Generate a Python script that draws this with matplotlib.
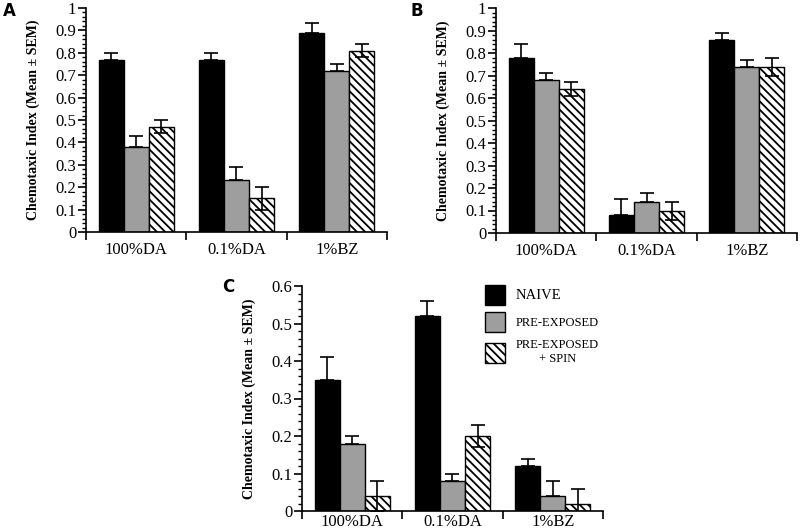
import matplotlib
matplotlib.use("Agg")
import matplotlib.pyplot as plt
import numpy as np
from matplotlib.patches import Patch
from matplotlib.ticker import MultipleLocator

plt.rcParams['hatch.linewidth'] = 1.3

categories = ["100%DA", "0.1%DA", "1%BZ"]
series_names = ["NAIVE", "PRE-EXPOSED", "PRE-EXPOSED\n+ SPIN"]

A_naive = [0.77, 0.77, 0.89]
A_naive_err = [0.03, 0.03, 0.045]
A_pre = [0.38, 0.23, 0.72]
A_pre_err = [0.05, 0.06, 0.03]
A_spin = [0.47, 0.15, 0.81]
A_spin_err = [0.03, 0.05, 0.03]

B_naive = [0.78, 0.08, 0.86]
B_naive_err = [0.06, 0.07, 0.03]
B_pre = [0.68, 0.14, 0.74]
B_pre_err = [0.03, 0.04, 0.03]
B_spin = [0.64, 0.10, 0.74]
B_spin_err = [0.03, 0.04, 0.04]

C_naive = [0.35, 0.52, 0.12]
C_naive_err = [0.06, 0.04, 0.02]
C_pre = [0.18, 0.08, 0.04]
C_pre_err = [0.02, 0.02, 0.04]
C_spin = [0.04, 0.20, 0.02]
C_spin_err = [0.04, 0.03, 0.04]

W, H = 800, 532
fig = plt.figure(figsize=(W / 100, H / 100), dpi=100)

serif = "Liberation Serif"
GRAY = "#9e9e9e"


def px_axes(left, right, top, bottom):
    return fig.add_axes([left / W, 1 - bottom / H, (right - left) / W, (bottom - top) / H])


def panel(ax, naive, naive_err, pre, pre_err, spin, spin_err, ymax, ystep, yminor, fmt, xpad):
    x = np.arange(len(categories)) + 0.5
    w = 0.25
    ekw = dict(ecolor="black", elinewidth=1.2, capsize=5, capthick=1.2, zorder=1)
    ax.bar(x - w, naive, w, color="black", edgecolor="black", linewidth=1, zorder=2)
    ax.errorbar(x - w, naive, yerr=[np.zeros(3), naive_err], fmt="none", **ekw)
    ax.bar(x, pre, w, color=GRAY, edgecolor="black", linewidth=1, zorder=2)
    ax.errorbar(x, pre, yerr=[np.zeros(3), pre_err], fmt="none", **ekw)
    ax.bar(x + w, spin, w, color="white", edgecolor="black", linewidth=1, hatch="\\\\\\\\", zorder=2)
    ekw2 = dict(ekw)
    ekw2["zorder"] = 3
    ax.errorbar(x + w, spin, yerr=spin_err, fmt="none", **ekw2)

    ax.set_xlim(0, 3)
    ax.set_ylim(0, ymax)
    ax.spines["top"].set_visible(False)
    ax.spines["right"].set_visible(False)
    for s in ("left", "bottom"):
        ax.spines[s].set_linewidth(1.2)
        ax.spines[s].set_clip_on(False)
    ax.set_xticks([0, 1, 2, 3], minor=False)
    ax.set_xticklabels([])
    ax.set_xticks(x, minor=True)
    ax.set_xticklabels(categories, minor=True, fontsize=12, family=serif)
    ax.tick_params(axis="x", which="major", direction="out", length=6, width=1.2)
    ax.tick_params(axis="x", which="minor", length=0, pad=xpad)
    ax.yaxis.set_major_locator(MultipleLocator(ystep))
    ax.yaxis.set_minor_locator(MultipleLocator(yminor))
    ticks = np.arange(0, ymax + 1e-9, ystep)
    ax.set_yticks(ticks)
    ax.set_yticklabels([fmt(t) for t in ticks], fontsize=12, family=serif)
    ax.tick_params(axis="y", which="major", direction="out", length=6, width=1.2, pad=1)
    ax.tick_params(axis="y", which="minor", direction="out", length=3, width=1)
    ax.set_ylabel("Chemotaxic Index (Mean \u00b1 SEM)", fontsize=10,
                  family=serif, fontweight="bold", labelpad=11)


def fmt1(t):
    if abs(t) < 1e-9:
        return "0"
    if abs(t - 1) < 1e-9:
        return "1"
    return f"{t:.1f}"


axA = px_axes(86, 387, 8, 232)
panel(axA, A_naive, A_naive_err, A_pre, A_pre_err, A_spin, A_spin_err, 1.0, 0.1, 0.02, fmt1, 7)
axB = px_axes(496, 797, 8, 233)
panel(axB, B_naive, B_naive_err, B_pre, B_pre_err, B_spin, B_spin_err, 1.0, 0.1, 0.02, fmt1, 7)
axC = px_axes(302, 603, 286, 511)
panel(axC, C_naive, C_naive_err, C_pre, C_pre_err, C_spin, C_spin_err, 0.6, 0.1, 0.02, fmt1, 2.5)

fig.text(9 / W, 1 - 11 / H, "A", fontsize=12, fontweight="bold", va="center", ha="center")
fig.text(417 / W, 1 - 11 / H, "B", fontsize=12, fontweight="bold", va="center", ha="center")
fig.text(228 / W, 1 - 287 / H, "C", fontsize=12, fontweight="bold", va="center", ha="center")

handles = [
    Patch(facecolor="black", edgecolor="black", linewidth=1),
    Patch(facecolor=GRAY, edgecolor="black", linewidth=1),
    Patch(facecolor="white", edgecolor="black", linewidth=1, hatch="\\\\\\\\"),
]
leg = axC.legend(handles, series_names, loc="upper left",
                 bbox_to_anchor=(485 / W, 1 - 285 / H), bbox_transform=fig.transFigure,
                 borderpad=0, borderaxespad=0,
                 frameon=False, prop={"family": serif, "size": 9},
                 handlelength=1.6, handleheight=2.08, labelspacing=0.58, handletextpad=0.85)
for i, t in enumerate(leg.get_texts()):
    t.set_multialignment("center")
    if i == 0:
        t.set_fontsize(10.5)

fig.savefig("out.png", dpi=100)
